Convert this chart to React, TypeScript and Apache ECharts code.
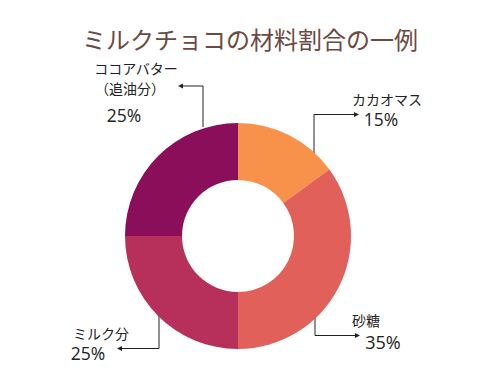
import React, { useEffect, useRef } from "react";
import * as echarts from "echarts";

const TITLE = "ミルクチョコの材料割合の一例";
const categories = ["カカオマス", "砂糖", "ミルク分", "ココアバター\n（追油分）"];
const values = [15, 35, 25, 25];
const colors = ["#F8914A", "#E2605A", "#B6305B", "#8A0E5A"];

const FONT = "'Noto Sans CJK JP', 'Noto Sans', sans-serif";
const NUM_FONT = "'Open Sans', 'Noto Sans', sans-serif";

function arrowHead(x: number, y: number, dir: 1 | -1) {
  return {
    type: "polygon",
    shape: { points: [[x, y], [x - dir * 5, y - 2.5], [x - dir * 5, y + 2.5]] },
    style: { fill: "#222" },
    silent: true,
  };
}

export default function App() {
  const ref = useRef<HTMLDivElement>(null);
  useEffect(() => {
    if (!ref.current) return;
    const chart = echarts.init(ref.current, null, { renderer: "svg" });
    const lineStyle = { stroke: "#222", lineWidth: 1, fill: "none" };
    const nameStyle = { fill: "#222", fontSize: 14, fontFamily: FONT, lineHeight: 15 };
    const valStyle = { fill: "#222", fontSize: 17.5, fontFamily: NUM_FONT, lineHeight: 17 };
    const [n0, n1, n2, n3] = categories;
    const [l3a, l3b] = n3.split("\n");
    chart.setOption({
      animation: false,
      backgroundColor: "#fff",
      title: {
        text: TITLE,
        left: "center",
        top: 21,
        textStyle: { fontSize: 24, fontWeight: "normal", color: "#6A4A42", fontFamily: FONT },
      },
      series: [
        {
          type: "pie",
          center: [238, 236],
          radius: [56, 113],
          startAngle: 90,
          clockwise: true,
          label: { show: false },
          labelLine: { show: false },
          data: categories.map((c, i) => ({ name: c, value: values[i], itemStyle: { color: colors[i] } })),
        },
      ],
      graphic: [
        // カカオマス
        { type: "polyline", shape: { points: [[314, 168], [314, 114.5], [357, 114.5]] }, style: lineStyle, silent: true },
        arrowHead(359, 114.5, 1),
        { type: "text", x: 387, y: 98.5, style: { ...nameStyle, text: n0, align: "center", verticalAlign: "middle" } },
        { type: "text", x: 381, y: 118.5, style: { ...valStyle, text: values[0] + "%", align: "center", verticalAlign: "middle" } },
        // 砂糖
        { type: "polyline", shape: { points: [[315, 303], [315, 335.5], [358, 335.5]] }, style: lineStyle, silent: true },
        arrowHead(360, 335.5, 1),
        { type: "text", x: 366, y: 320, style: { ...nameStyle, text: n1, align: "center", verticalAlign: "middle" } },
        { type: "text", x: 383, y: 341.5, style: { ...valStyle, fontSize: 18, text: values[1] + "%", align: "center", verticalAlign: "middle" } },
        // ミルク分
        { type: "polyline", shape: { points: [[159, 316], [159, 348.5], [119, 348.5]] }, style: lineStyle, silent: true },
        arrowHead(117, 348.5, -1),
        { type: "text", x: 101, y: 332.5, style: { ...nameStyle, text: n2, align: "center", verticalAlign: "middle" } },
        { type: "text", x: 88, y: 352.5, style: { ...valStyle, text: values[2] + "%", align: "center", verticalAlign: "middle" } },
        // ココアバター
        { type: "polyline", shape: { points: [[203, 127], [203, 86], [180, 86]] }, style: lineStyle, silent: true },
        arrowHead(178, 86, -1),
        { type: "text", x: 136, y: 68, style: { ...nameStyle, text: l3a, align: "center", verticalAlign: "middle" } },
        { type: "text", x: 130, y: 88, style: { ...nameStyle, text: l3b, align: "center", verticalAlign: "middle" } },
        { type: "text", x: 124, y: 115, style: { ...valStyle, text: values[3] + "%", align: "center", verticalAlign: "middle" } },
      ],
    });
    return () => chart.dispose();
  }, []);
  return <div ref={ref} style={{ position: "fixed", left: 0, top: 0, width: 500, height: 375 }} />;
}
